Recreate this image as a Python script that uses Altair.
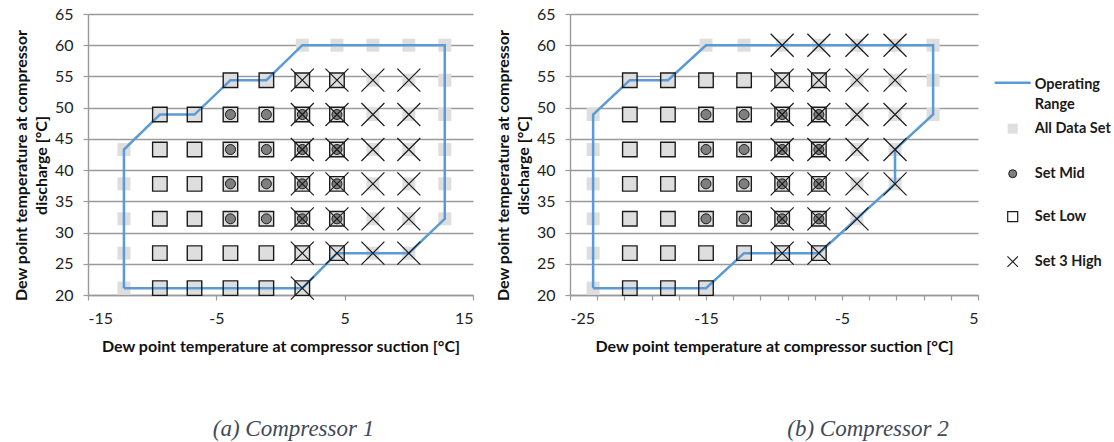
import altair as alt
import pandas as pd

# Suction dew-point grid (°C) tested on each compressor
comp1_suction = [-12.2, -9.4, -6.7, -3.9, -1.1, 1.7, 4.4, 7.2, 10.0, 12.8]
comp2_suction = [-23.3, -20.6, -17.8, -15.0, -12.2, -9.4, -6.7, -3.9, -1.1, 1.7]
# Discharge dew-point rows (°C), bottom to top
discharge = [21.1, 26.7, 32.2, 37.8, 43.3, 48.9, 54.4, 60.0]

# For every discharge row: indices of the suction columns belonging to each set
comp1_all = [
    [0, 1, 2, 3, 4, 5],
    [0, 1, 2, 3, 4, 5, 6, 7, 8],
    [0, 1, 2, 3, 4, 5, 6, 7, 8, 9],
    [0, 1, 2, 3, 4, 5, 6, 7, 8, 9],
    [0, 1, 2, 3, 4, 5, 6, 7, 8, 9],
    [1, 2, 3, 4, 5, 6, 7, 8, 9],
    [3, 4, 5, 6, 7, 8, 9],
    [5, 6, 7, 8, 9],
]
comp1_low = [
    [1, 2, 3, 4, 5],
    [1, 2, 3, 4, 5, 6],
    [1, 2, 3, 4, 5, 6],
    [1, 2, 3, 4, 5, 6],
    [1, 2, 3, 4, 5, 6],
    [1, 2, 3, 4, 5, 6],
    [3, 4, 5, 6],
    [],
]
comp1_mid = [[], [], [3, 4, 5, 6], [3, 4, 5, 6], [3, 4, 5, 6], [3, 4, 5, 6], [], []]
comp1_high = [
    [5],
    [5, 6, 7, 8],
    [5, 6, 7, 8],
    [5, 6, 7, 8],
    [5, 6, 7, 8],
    [5, 6, 7, 8],
    [5, 6, 7, 8],
    [],
]

comp2_all = [
    [0, 1, 2, 3],
    [0, 1, 2, 3, 4, 5, 6],
    [0, 1, 2, 3, 4, 5, 6, 7],
    [0, 1, 2, 3, 4, 5, 6, 7, 8],
    [0, 1, 2, 3, 4, 5, 6, 7, 8],
    [0, 1, 2, 3, 4, 5, 6, 7, 8, 9],
    [1, 2, 3, 4, 5, 6, 7, 8, 9],
    [3, 4, 5, 6, 7, 8, 9],
]
comp2_low = [
    [1, 2, 3],
    [1, 2, 3, 4, 5, 6],
    [1, 2, 3, 4, 5, 6],
    [1, 2, 3, 4, 5, 6],
    [1, 2, 3, 4, 5, 6],
    [1, 2, 3, 4, 5, 6],
    [1, 2, 3, 4, 5, 6],
    [],
]
comp2_mid = [[], [], [3, 4, 5, 6], [3, 4, 5, 6], [3, 4, 5, 6], [3, 4, 5, 6], [], []]
comp2_high = [
    [],
    [5, 6],
    [5, 6, 7],
    [5, 6, 7, 8],
    [5, 6, 7, 8],
    [5, 6, 7, 8],
    [5, 6, 7, 8],
    [5, 6, 7, 8],
]

# Operating envelopes (closed polygons)
comp1_env_x = [-12.2, -12.2, -9.4, -6.7, -3.9, -1.1, 1.7, 12.8, 12.8, 10.0, 4.4, 1.7, -12.2]
comp1_env_y = [21.1, 43.3, 48.9, 48.9, 54.4, 54.4, 60.0, 60.0, 32.2, 26.7, 26.7, 21.1, 21.1]
comp2_env_x = [-23.3, -23.3, -20.6, -17.8, -15.0, 1.7, 1.7, -1.1, -1.1, -6.7, -12.2, -15.0, -23.3]
comp2_env_y = [21.1, 48.9, 54.4, 54.4, 60.0, 60.0, 48.9, 43.3, 37.8, 26.7, 26.7, 21.1, 21.1]

y_ticks = [20, 25, 30, 35, 40, 45, 50, 55, 60, 65]
comp1_x_ticks = [-15, -5, 5, 15]
comp2_x_ticks = [-25, -23, -21, -19, -17, -15, -13, -11, -9, -7, -5, -3, -1, 1, 3, 5]

legend_labels = ["Operating", "Range", "All Data Set", "Set Mid", "Set Low", "Set 3 High"]
captions = ["(a) Compressor 1", "(b) Compressor 2"]

BLUE = "#5b9bd5"
GRID = "#9a9a9a"
INK = "#1a1a1a"
X_PATH = "M-1,-1L1,1M-1,1L1,-1"
FONT = "Lato"


def points(columns, rows):
    recs = []
    for y, cols in zip(discharge, rows):
        for c in cols:
            recs.append({"suction": columns[c], "discharge": y})
    return pd.DataFrame(recs, columns=["suction", "discharge"])


def panel(columns, sets, env_x, env_y, x_domain, x_ticks, label_expr, width,
          caption, caption_dx, legend=False):
    x_axis = alt.Axis(values=x_ticks, labelExpr=label_expr, grid=False,
                      title="Dew point temperature at compressor suction [°C]")
    y_axis = alt.Axis(values=y_ticks, grid=True,
                      title=["Dew point temperature at compressor", "discharge  [°C]"])
    x = alt.X("suction:Q", scale=alt.Scale(domain=x_domain, nice=False, zero=False), axis=x_axis)
    y = alt.Y("discharge:Q", scale=alt.Scale(domain=[20, 65], nice=False, zero=False), axis=y_axis)

    all_set, low_set, mid_set, high_set = sets
    env = pd.DataFrame({"suction": env_x, "discharge": env_y, "seq": list(range(len(env_x)))})

    layers = [
        alt.Chart(points(columns, all_set)).mark_square(size=169, color="#dedede", opacity=1).encode(x=x, y=y),
        alt.Chart(env).mark_line(color=BLUE, strokeWidth=2.5).encode(x=x, y=y, order="seq:Q"),
        alt.Chart(points(columns, low_set)).mark_square(
            size=210, filled=False, color=INK, strokeWidth=1.4, opacity=1).encode(x=x, y=y),
        alt.Chart(points(columns, mid_set)).mark_circle(
            size=100, color="#7f7f7f", stroke=INK, strokeWidth=1, opacity=1).encode(x=x, y=y),
        alt.Chart(points(columns, high_set)).mark_point(
            shape=X_PATH, size=529, filled=False, color=INK, strokeWidth=1.2, opacity=1).encode(x=x, y=y),
    ]

    if legend:
        # legend block drawn to the right of the plot area (pixel offsets from the plot origin)
        one = alt.Chart(pd.DataFrame({"k": [0]}))
        sx, tx = 442.7, 464.7
        ys = [70.7, 90.7, 114.7, 159.7, 202.7, 247.7]
        layers += [
            one.mark_rule(color=BLUE, strokeWidth=2.5).encode(
                x=alt.value(424.7), x2=alt.value(460.7), y=alt.value(68.7)),
            one.mark_square(size=100, color="#dedede", opacity=1).encode(
                x=alt.value(sx), y=alt.value(ys[2])),
            one.mark_circle(size=64, color="#7f7f7f", stroke=INK, strokeWidth=1, opacity=1).encode(
                x=alt.value(sx), y=alt.value(ys[3])),
            one.mark_square(size=100, filled=False, color=INK, strokeWidth=1.2, opacity=1).encode(
                x=alt.value(sx), y=alt.value(ys[4])),
            one.mark_point(shape=X_PATH, size=110, filled=False, color=INK, strokeWidth=1.1, opacity=1).encode(
                x=alt.value(sx), y=alt.value(ys[5])),
        ]
        for label, yy in zip(legend_labels, ys):
            layers.append(one.mark_text(align="left", baseline="middle", font=FONT, fontWeight="bold",
                                        fontSize=14.5, color=INK).encode(
                x=alt.value(tx), y=alt.value(yy), text=alt.value(label)))

    return alt.layer(*layers).properties(
        width=width, height=281,
        title=alt.TitleParams(caption, orient="bottom", anchor="middle", dx=caption_dx, offset=64,
                              font="Liberation Serif", fontStyle="italic", fontWeight="normal",
                              fontSize=23, color="#3f4a5a"),
    )


left = panel(comp1_suction, (comp1_all, comp1_low, comp1_mid, comp1_high),
             comp1_env_x, comp1_env_y, [-15, 15], comp1_x_ticks,
             "'' + datum.value", 385, captions[0], 13)
right = panel(comp2_suction, (comp2_all, comp2_low, comp2_mid, comp2_high),
              comp2_env_x, comp2_env_y, [-25, 5], comp2_x_ticks,
              "(datum.value + 25) % 10 == 0 ? '' + datum.value : ''", 408, captions[1], 94, legend=True)

chart = alt.hconcat(left, right, spacing=97, bounds="flush").properties(
    padding={"left": 13, "top": 6, "right": 0, "bottom": 0},
    background="white",
).configure_view(stroke=None).configure_axis(
    labelFont=FONT, labelFontSize=16, labelColor="#222222",
    titleFont=FONT, titleFontSize=16, titleFontWeight="bold", titleColor="#111111",
    titleLineHeight=20,
    domainColor=GRID, domainWidth=1.4, tickColor=GRID, tickWidth=1.2, tickSize=5,
    gridColor=GRID, gridWidth=1.4,
).configure_axisX(labelPadding=10, titlePadding=12).configure_axisY(
    labelPadding=10, titlePadding=5, titleY=151)

chart.save("out.html", embed_options={"renderer": "svg", "actions": False})
